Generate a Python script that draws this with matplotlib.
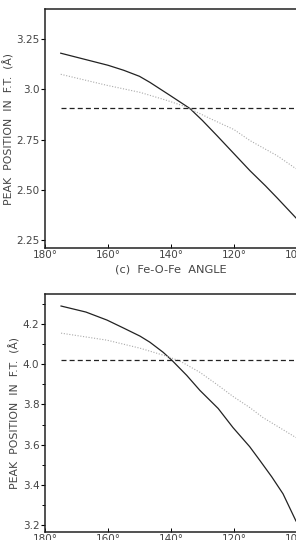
import matplotlib
matplotlib.use('Agg')
import matplotlib.pyplot as plt
from matplotlib.ticker import MultipleLocator

# ======================
# DATA
# ======================

# panel (c): Fe-O-Fe angle, upper plot
angle_c = [175, 170, 165, 160, 155, 150, 146.7, 140.3, 134, 130, 125.4, 120, 114.9, 110, 106.3, 100.3]
solid_c = [3.18, 3.16, 3.14, 3.12, 3.095, 3.065, 3.035, 2.97, 2.905, 2.845, 2.77, 2.68, 2.595, 2.52, 2.46, 2.36]

dotted_angle_c = [175, 160.3, 149.8, 141.3, 135.6, 127.6, 120, 114.9, 106.3, 100.3]
dotted_c = [3.075, 3.02, 2.985, 2.945, 2.915, 2.855, 2.80, 2.745, 2.67, 2.605]

dashed_angle_c = [175, 100]
dashed_c = [2.905, 2.905]

# lower plot
angle_d = [174.9, 167, 160.3, 155, 149.8, 146.7, 142.5, 139.7, 135, 130.8, 125, 120.3, 115, 111.7, 108, 104.4, 100.3]
solid_d = [4.29, 4.26, 4.22, 4.18, 4.14, 4.11, 4.06, 4.02, 3.945, 3.87, 3.78, 3.685, 3.59, 3.52, 3.44, 3.355, 3.22]

dotted_angle_d = [174.9, 160.3, 149.8, 141.3, 137, 130.8, 125, 120.3, 115, 110.8, 105, 100.3]
dotted_d = [4.155, 4.12, 4.08, 4.04, 4.015, 3.96, 3.895, 3.84, 3.785, 3.735, 3.68, 3.635]

dashed_angle_d = [174.9, 100]
dashed_d = [4.02, 4.02]

xticks = [180, 160, 140, 120, 100]
xticklabels = ['180°', '160°', '140°', '120°', '100°']

# ======================
# PLOT
# ======================

plt.rcParams.update({'font.size': 7.5, 'font.family': 'DejaVu Sans'})
ink = '#444444'

fig = plt.figure(figsize=(2.96, 5.40), dpi=100)
ax1 = fig.add_axes([0.152, 0.5407, 0.851, 0.4426])
ax2 = fig.add_axes([0.152, 0.0148, 0.851, 0.4408])

panels = [
    (ax1, angle_c, solid_c, dotted_angle_c, dotted_c, dashed_angle_c, dashed_c,
     (2.21, 3.40), [2.25, 2.50, 2.75, 3.0, 3.25], ['2.25', '2.50', '2.75', '3.0', '3.25'], None),
    (ax2, angle_d, solid_d, dotted_angle_d, dotted_d, dashed_angle_d, dashed_d,
     (3.165, 4.35), [3.2, 3.4, 3.6, 3.8, 4.0, 4.2], ['3.2', '3.4', '3.6', '3.8', '4.0', '4.2'], 0.1),
]

for ax, xs, ys, xdot, ydot, xdash, ydash, ylim, yt, ytl, minor in panels:
    ax.plot(xs, ys, color='#222222', lw=0.9)
    ax.plot(xdot, ydot, color='#aaaaaa', lw=0.8, ls=(0, (1, 1.5)))
    ax.plot(xdash, ydash, color='#222222', lw=0.9, ls=(0, (4, 2.5)))

    ax.set_xlim(180, 100)
    ax.set_ylim(*ylim)
    ax.set_xticks(xticks)
    ax.set_xticklabels(xticklabels, color=ink)
    ax.set_yticks(yt)
    ax.set_yticklabels(ytl, color=ink)
    if minor:
        ax.yaxis.set_minor_locator(MultipleLocator(minor))
    ax.tick_params(axis='y', which='major', direction='out', length=3, width=0.8, pad=1)
    ax.tick_params(axis='y', which='minor', direction='out', length=2.5, width=0.7)
    ax.tick_params(axis='x', direction='in', length=3, width=0.7, pad=1.5)
    ax.spines['right'].set_visible(False)
    for s in ['left', 'bottom', 'top']:
        ax.spines[s].set_linewidth(1.1)
        ax.spines[s].set_color('#222222')
    ax.set_ylabel('PEAK  POSITION  IN  F.T.  (Å)', color=ink, fontsize=7.8, labelpad=1.5)

ax1.set_xlabel('(c)  Fe-O-Fe  ANGLE', color=ink, fontsize=8.2, labelpad=3)

fig.savefig('out.png', dpi=100)
